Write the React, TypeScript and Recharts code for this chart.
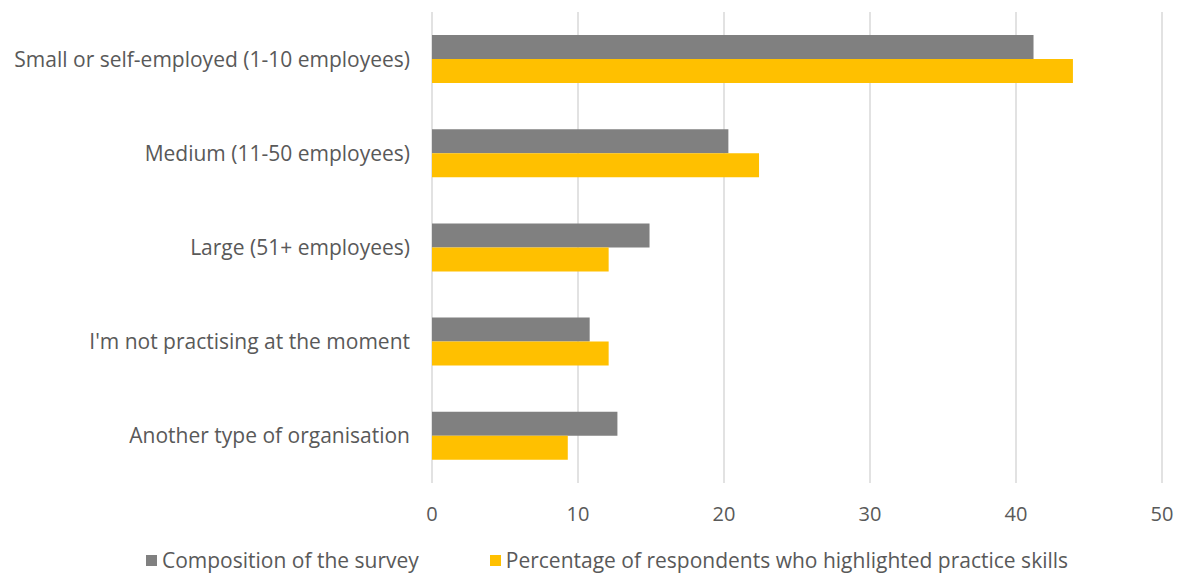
import { BarChart, Bar, XAxis, YAxis, CartesianGrid, Legend } from 'recharts';

const categories = [
  'Small or self-employed (1-10 employees)',
  'Medium (11-50 employees)',
  'Large (51+ employees)',
  "I'm not practising at the moment",
  'Another type of organisation',
];
const composition = [41.2, 20.3, 14.9, 10.8, 12.7];
const practiceSkills = [43.9, 22.4, 12.1, 12.1, 9.3];
const xTicks = [0, 10, 20, 30, 40, 50];

const seriesNames = {
  composition: 'Composition of the survey',
  practice: 'Percentage of respondents who highlighted practice skills',
};

const GREY = '#808080';
const YELLOW = '#FFC000';
const TEXT = '#595959';
const FONT = '"Open Sans", sans-serif';

const data = categories.map((name, i) => ({
  name,
  composition: composition[i],
  practice: practiceSkills[i],
}));

const LegendContent = () => (
  <div
    style={{
      display: 'flex',
      justifyContent: 'center',
      alignItems: 'center',
      paddingTop: 22,
      fontFamily: FONT,
      fontSize: 21,
      color: TEXT,
      gap: 71,
      paddingLeft: 52,
    }}
  >
    {[
      { label: seriesNames.composition, color: GREY },
      { label: seriesNames.practice, color: YELLOW },
    ].map(item => (
      <span key={item.label} style={{ display: 'flex', alignItems: 'center' }}>
        <span style={{ width: 11, height: 11, background: item.color, marginRight: 5, display: 'inline-block' }} />
        {item.label}
      </span>
    ))}
  </div>
);

export default function App() {
  return (
    <div style={{ position: 'absolute', left: 0, top: 0 }}>
      <BarChart
        width={1182}
        height={574}
        data={data}
        layout="vertical"
        margin={{ top: 12, right: 20, bottom: 0, left: 0 }}
        barGap={0}
        barSize={24}
      >
        <CartesianGrid horizontal={false} stroke="#d9d9d9" strokeWidth={1.5} />
        <XAxis
          type="number"
          domain={[0, 50]}
          ticks={xTicks}
          axisLine={false}
          tickLine={false}
          tickMargin={18}
          height={41}
          tick={{ fill: TEXT, fontSize: 20, fontFamily: FONT }}
        />
        <YAxis
          type="category"
          dataKey="name"
          width={432}
          axisLine={false}
          tickLine={false}
          tickSize={0}
          tickMargin={22}
          tick={{ fill: TEXT, fontSize: 21, fontFamily: FONT }}
        />
        <Legend verticalAlign="bottom" wrapperStyle={{ height: 50 }} content={<LegendContent />} />
        <Bar dataKey="composition" name={seriesNames.composition} fill={GREY} isAnimationActive={false} />
        <Bar dataKey="practice" name={seriesNames.practice} fill={YELLOW} isAnimationActive={false} />
      </BarChart>
    </div>
  );
}
